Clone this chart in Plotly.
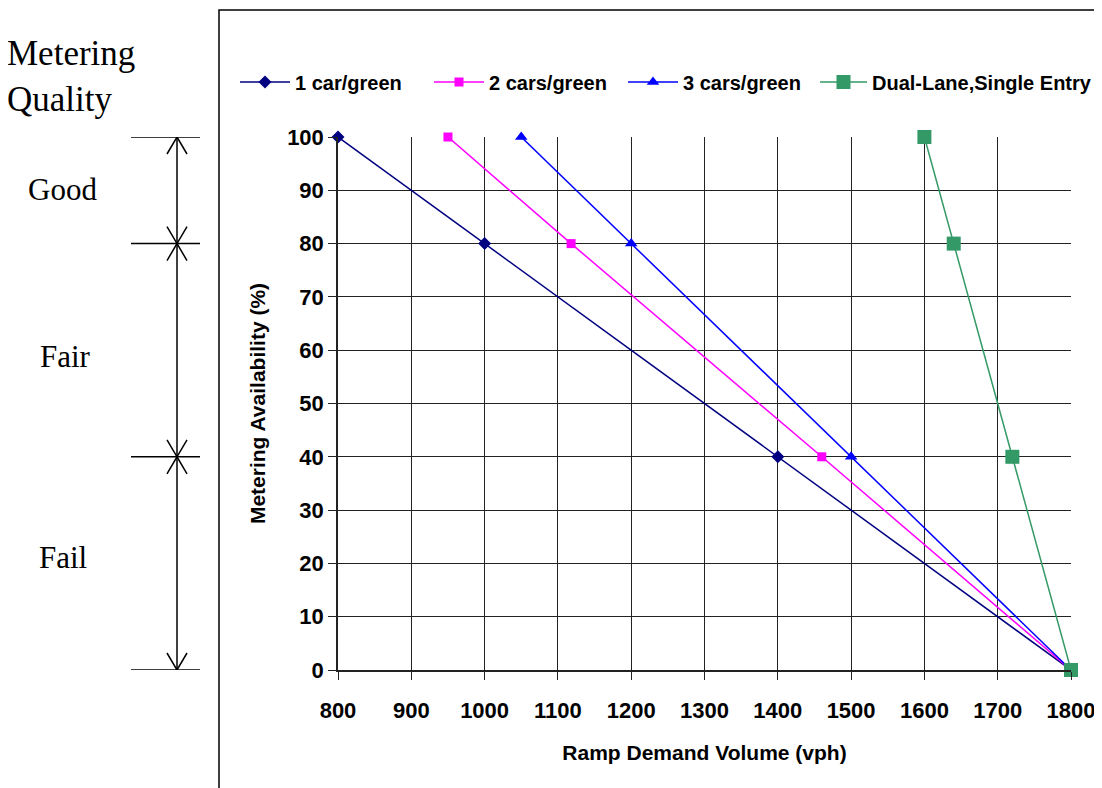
import plotly.graph_objects as go

# ---- data ----
one_car_x = [800, 1000, 1400, 1800]
one_car_y = [100, 80, 40, 0]
two_cars_x = [950, 1118, 1460, 1800]
two_cars_y = [100, 80, 40, 0]
three_cars_x = [1050, 1200, 1500, 1800]
three_cars_y = [100, 80, 40, 0]
dual_x = [1600, 1640, 1720, 1800]
dual_y = [100, 80, 40, 0]

x_ticks = list(range(800, 1801, 100))
y_ticks = list(range(0, 101, 10))

quality_bounds = [100, 80, 40, 0]
quality_labels = ["Good", "Fair", "Fail"]

# ---- layout geometry (page pixels; the page body has an 8px margin) ----
OFF = 8
W, H = 1102 - OFF, 788 - OFF
PL, PR, PT, PB = 338, 1071, 137, 670          # plot area in page pixels
L, R, T, B = PL - OFF, (W + OFF) - PR, PT - OFF, (H + OFF) - PB
PW = PR - PL
PH = PB - PT


def px(xs):
    return (xs - PL) / PW


def py(ys):
    return (PB - ys) / PH


fig = go.Figure()
series = [
    ("1 car/green", one_car_x, one_car_y, "#000080", "diamond", 10, "legend"),
    ("2 cars/green", two_cars_x, two_cars_y, "#FF00FF", "square", 9, "legend"),
    ("3 cars/green", three_cars_x, three_cars_y, "#0000FF", "triangle-up", 11, "legend"),
    ("Dual-Lane,Single Entry", dual_x, dual_y, "#339966", "square", 14, "legend2"),
]
for name, xs, ys, col, sym, sz, lg in series:
    fig.add_trace(go.Scatter(
        x=xs, y=ys, name=name, mode="lines+markers",
        line=dict(color=col, width=1.5),
        marker=dict(symbol=sym, size=sz, color=col),
        cliponaxis=False, legend=lg,
    ))

SANS = "Liberation Sans, Arial"
serif = "Liberation Serif, Times New Roman, serif"
tickfont = dict(family=SANS, size=22, color="black", weight="bold")
titlefont = dict(family=SANS, size=21, color="black", weight="bold")
legfont = dict(family=SANS, size=20, color="black", weight="bold")

shapes = []
# outer box
shapes.append(dict(type="rect", xref="paper", yref="paper",
                   x0=px(219), x1=px(1130), y0=py(820), y1=py(10),
                   line=dict(color="black", width=1.5)))
# dimension lines
xv = px(177)
for b in quality_bounds:
    shapes.append(dict(type="line", xref="paper", yref="y",
                       x0=px(131), x1=px(200), y0=b, y1=b,
                       line=dict(color="black", width=1.5)))
shapes.append(dict(type="line", xref="paper", yref="y",
                   x0=xv, x1=xv, y0=quality_bounds[-1], y1=quality_bounds[0],
                   line=dict(color="black", width=1.5)))
dxa = 10 / PW
dya = 17 / PH * 100
for i, b in enumerate(quality_bounds):
    if i < len(quality_bounds) - 1:  # arrow pointing up (arms below)
        shapes.append(dict(type="path", xref="paper", yref="y",
                           path=f"M {xv-dxa} {b-dya} L {xv} {b} L {xv+dxa} {b-dya}",
                           line=dict(color="black", width=1.5)))
    if i > 0:  # arrow pointing down (arms above)
        shapes.append(dict(type="path", xref="paper", yref="y",
                           path=f"M {xv-dxa} {b+dya} L {xv} {b} L {xv+dxa} {b+dya}",
                           line=dict(color="black", width=1.5)))

annotations = [
    dict(text="Metering<br>Quality", xref="paper", yref="paper",
         x=px(5), y=py(32), xanchor="left", yanchor="top", align="left",
         showarrow=False, font=dict(family=serif, size=35, color="black")),
]
label_centers = [62, 65, 63]
label_y = [189, 356, 557]
for lab, cx, cy in zip(quality_labels, label_centers, label_y):
    annotations.append(dict(text=lab, xref="paper", yref="paper",
                            x=px(cx), y=py(cy), xanchor="center", yanchor="middle",
                            showarrow=False,
                            font=dict(family=serif, size=31, color="black")))

fig.update_layout(
    width=W, height=H,
    margin=dict(l=L, r=R, t=T, b=B, autoexpand=False),
    paper_bgcolor="white", plot_bgcolor="white",
    font=dict(family=SANS, color="black"),
    showlegend=True,
    legend=dict(orientation="h", x=px(235), y=py(82), xanchor="left", yanchor="middle",
                font=legfont, entrywidth=129, itemwidth=50,
                bgcolor="rgba(0,0,0,0)"),
    legend2=dict(orientation="h", x=px(815), y=py(82), xanchor="left", yanchor="middle",
                 font=legfont, itemwidth=47, bgcolor="rgba(0,0,0,0)"),
    shapes=shapes,
    annotations=annotations,
    xaxis=dict(range=[800, 1800], tickvals=x_ticks, ticktext=[str(v) for v in x_ticks],
               showgrid=True, gridcolor="#222", gridwidth=1,
               showline=True, linecolor="#222", linewidth=1.5,
               ticks="outside", ticklen=8, tickcolor="#222",
               tickfont=tickfont, ticklabelstandoff=12,
               zeroline=False, automargin=False,
               title=dict(text="Ramp Demand Volume (vph)", standoff=23, font=titlefont)),
    yaxis=dict(range=[0, 100], tickvals=y_ticks,
               showgrid=True, gridcolor="#222", gridwidth=1,
               showline=True, linecolor="#222", linewidth=1.5,
               ticks="outside", ticklen=8, tickcolor="#222",
               tickfont=tickfont, ticklabelstandoff=0,
               zeroline=False, automargin=False,
               title=dict(text="Metering Availability (%)", standoff=16, font=titlefont)),
)

fig.write_html("out.html")
